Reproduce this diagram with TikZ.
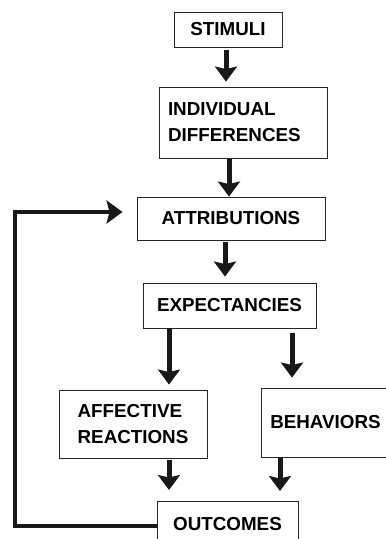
\documentclass[tikz,border=0pt]{standalone}
\usepackage{fontspec}
\setmainfont{Liberation Sans}
\usetikzlibrary{arrows.meta}
\begin{document}
\begin{tikzpicture}[x=1pt,y=-1pt,
  box/.style={draw=black!85, line width=0.9pt, inner sep=0pt, font=\bfseries\fontsize{18.8}{26}\selectfont, text=black},
  arr/.style={line width=5pt, -{Stealth[length=15pt,width=22pt,inset=2.5pt]}, black!90},
  fbarr/.style={line width=4.5pt, -{Stealth[length=16pt,width=23pt,inset=3pt]}, black!90}]
\useasboundingbox (0,0) rectangle (386,539);
\fill[white] (0,0) rectangle (386,539);
\begin{scope}
\clip (0,0) rectangle (386,539);
\node[box, minimum width=108pt, minimum height=35pt] (stim) at (228,29.5) {STIMULI};
\node[box, minimum width=168pt, minimum height=71pt, text width=150pt, align=left] (ind) at (243,122.5) {INDIVIDUAL\\DIFFERENCES};
\node[box, minimum width=188pt, minimum height=43pt] (attr) at (231,218.5) {ATTRIBUTIONS};
\node[box, minimum width=173pt, minimum height=45pt] (expt) at (229.5,305.5) {EXPECTANCIES};
\node[box, minimum width=148pt, minimum height=68pt, align=left] (aff) at (133,424) {AFFECTIVE\\REACTIONS};
\node[box, minimum width=129pt, minimum height=69pt] (beh) at (325.5,422.5) {BEHAVIORS};
\node[box, anchor=north, minimum width=141pt, inner ysep=9pt, text height=20pt, text depth=30pt] (out) at (227.5,501) {OUTCOMES};

\draw[arr] ([xshift=-2pt,yshift=-3pt]stim.south) -- ([xshift=-17pt,yshift=5pt]ind.north);
\draw[arr] ([xshift=-14pt,yshift=-1pt]ind.south) -- ([xshift=-2pt]attr.north);
\draw[arr] ([xshift=-6pt,yshift=-2pt]attr.south) -- ([xshift=-4.5pt,yshift=6pt]expt.north);
\draw[arr] ([xshift=-60.5pt]expt.south) -- ([xshift=36pt,yshift=5pt]aff.north);
\draw[arr] ([xshift=62.5pt,yshift=-5pt]expt.south) -- ([xshift=-33.5pt,yshift=10pt]beh.north);
\draw[arr] ([xshift=36pt,yshift=-2pt]aff.south) -- ([xshift=-58.5pt,yshift=11pt]out.north);
\draw[arr] ([xshift=-45.5pt,yshift=-1pt]beh.south) -- ([xshift=52.5pt,yshift=10pt]out.north);

\coordinate (oL) at ([yshift=-25pt]out.north west);
\coordinate (aL) at ([xshift=-14pt,yshift=6.5pt]attr.west);
\coordinate (fbx) at (15,0);
\draw[fbarr] (oL) -- (oL -| fbx) |- (aL);
\end{scope}
\end{tikzpicture}
\end{document}
